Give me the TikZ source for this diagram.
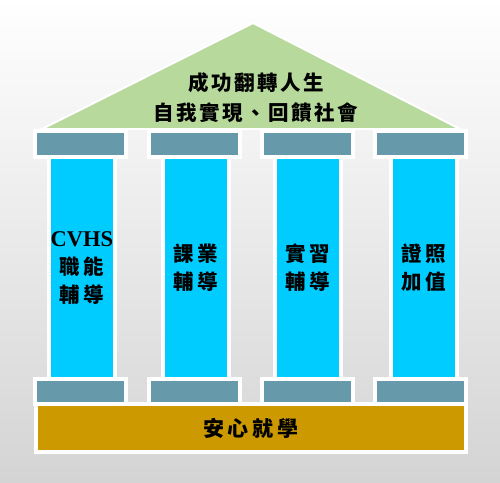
\documentclass[tikz,border=0pt]{standalone}
\usepackage{fontspec}
\setmainfont{Liberation Serif}
\newfontfamily\cjk[LetterSpace=12]{Noto Sans CJK TC}
\newfontfamily\cjkwide[LetterSpace=19]{Noto Sans CJK TC}
\usepackage{xcolor}
\definecolor{roofgreen}{RGB}{183,217,155}
\definecolor{capblue}{RGB}{102,153,170}
\definecolor{pillarcyan}{RGB}{0,204,255}
\definecolor{basegold}{RGB}{204,153,0}
\definecolor{bggray}{RGB}{212,212,212}

\begin{document}
\begin{tikzpicture}[x=1pt,y=-1pt,
    every node/.style={inner sep=0pt, draw=white, line width=4pt},
    capstone/.style={fill=capblue, minimum width=91pt, minimum height=26pt},
    pillar/.style={fill=pillarcyan, minimum width=66pt, minimum height=222pt,
      align=center, font=\fontsize{20.5}{28}\selectfont\bfseries\cjkwide}]
    \useasboundingbox (0,0) rectangle (500,482);
    \shade[top color=white, bottom color=bggray] (0,0) rectangle (500,482);
    % roof
    \draw[white, line width=2pt, fill=roofgreen] (42,129) -- (253,23) -- (460,129) -- cycle;
    \node[draw=none, align=center, font=\fontsize{20.5}{30}\selectfont\bfseries\cjk] (roof) at (256,98)
      {成功翻轉人生\\自我實現、回饋社會};
    % capitals
    \foreach \x/\n in {80.5/a,194/b,307.5/c,420.5/d}
    {
      \node[capstone] (top\n) at (\x,144) {};
      \node[capstone, minimum height=25pt] (bot\n) at (\x,391.5) {};
    }
    % pillars
    \node[pillar] (p1) at (82,268) {\textrm{\fontsize{22.5}{28}\selectfont CVHS}\\職能\\輔導};
    \node[pillar] (p2) at (195.5,268) {課業\\輔導};
    \node[pillar] (p3) at (307.5,268) {實習\\輔導};
    \node[pillar] (p4) at (423.5,268) {證照\\加值};
    % base
    \node[fill=basegold, minimum width=430pt, minimum height=48pt,
      font=\fontsize{21}{24}\selectfont\bfseries\cjkwide] (base) at (251,428) {安心就學};
  \end{tikzpicture}
\end{document}
